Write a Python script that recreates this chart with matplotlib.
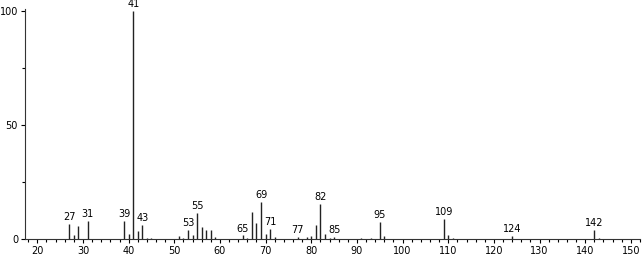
import matplotlib
matplotlib.use("Agg")
import matplotlib.pyplot as plt
from matplotlib.ticker import MultipleLocator

# m/z values and relative intensities (%)
mz = [27, 28, 29, 31, 39, 40, 41, 42, 43, 44, 45,
      51, 52, 53, 54, 55, 56, 57, 58, 59,
      65, 66, 67, 68, 69, 70, 71, 72,
      77, 79, 80, 81, 82, 83, 84, 85,
      91, 93, 95, 96, 109, 110, 111, 124, 142, 143]
intensity = [6.7, 1.8, 5.7, 7.8, 7.8, 2.2, 100, 3.5, 6.1, 0.6, 0.4,
             1.1, 0.5, 3.9, 1.7, 11.3, 5.3, 4.0, 3.8, 1.0,
             1.6, 0.5, 11.7, 6.9, 16.4, 2.2, 4.4, 1.0,
             1.0, 1.0, 1.1, 6.1, 15.5, 2.2, 0.3, 1.0,
             0.5, 0.6, 7.6, 1.2, 8.8, 1.6, 0.3, 1.4, 3.9, 0.5]
labeled = [27, 31, 39, 41, 43, 53, 55, 65, 69, 71, 77, 82, 85, 95, 109, 124, 142]

xticks = list(range(20, 151, 10))
yticks = [0, 50, 100]

fig = plt.figure(figsize=(6.44, 2.56), dpi=100)
ax = fig.add_axes([25/644, 17/256, 615/644, 230/256])

ax.vlines(mz, 0, intensity, color="#222222", linewidth=1.0)
lookup = dict(zip(mz, intensity))
for m in labeled:
    ax.text(m, lookup[m] + 0.8, str(m), ha="center", va="bottom",
            fontsize=7, color="black", clip_on=False)

ax.set_xlim(17.3, 152.0)
ax.set_ylim(0, 101)
ax.set_xticks(xticks)
ax.set_xticklabels([str(t) for t in xticks])
ax.xaxis.set_minor_locator(MultipleLocator(2))
ax.set_yticks(yticks)
ax.set_yticks([25, 75], minor=True)
ax.tick_params(axis="both", which="major", direction="out", length=3,
               width=0.8, labelsize=7, pad=2)
ax.tick_params(axis="both", which="minor", direction="out", length=2, width=0.8)
for s in ["top", "right"]:
    ax.spines[s].set_visible(False)
for s in ["left", "bottom"]:
    ax.spines[s].set_linewidth(0.8)
    ax.spines[s].set_color("#333333")

fig.savefig("out.png", dpi=100)
